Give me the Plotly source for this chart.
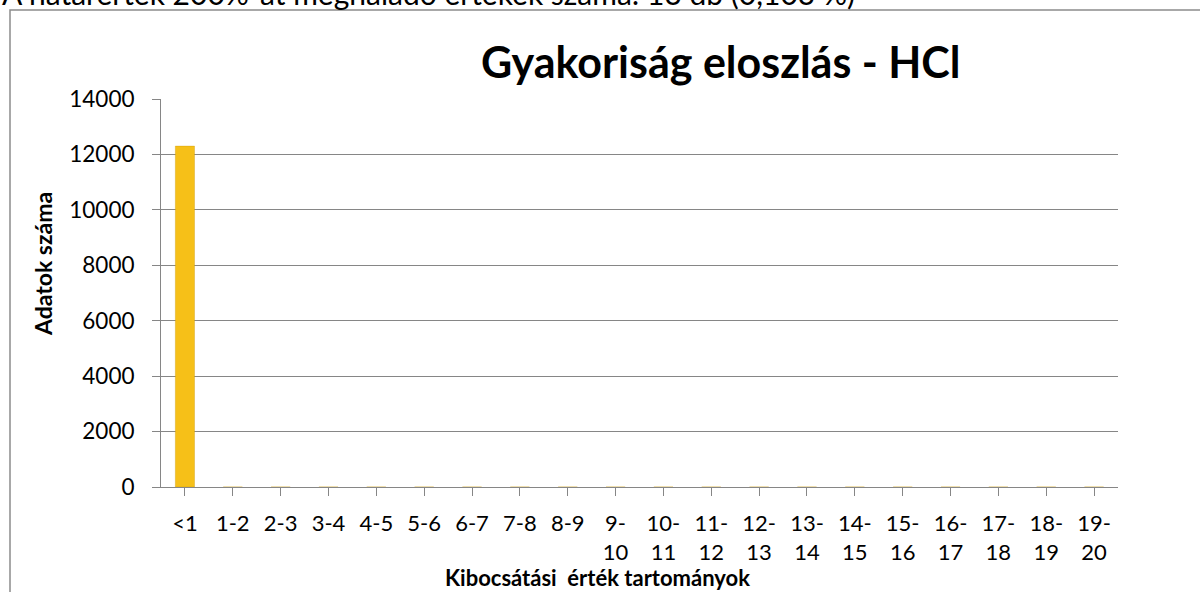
import plotly.graph_objects as go

categories = ["<1", "1-2", "2-3", "3-4", "4-5", "5-6", "6-7", "7-8", "8-9", "9-<br>10",
              "10-<br>11", "11-<br>12", "12-<br>13", "13-<br>14", "14-<br>15", "15-<br>16",
              "16-<br>17", "17-<br>18", "18-<br>19", "19-<br>20"]
counts = [12300, 0, 0, 0, 0, 0, 0, 0, 0, 0, 0, 0, 0, 0, 0, 0, 0, 0, 0, 0]
y_ticks = [0, 2000, 4000, 6000, 8000, 10000, 12000, 14000]

title_text = "Gyakoriság eloszlás - HCl"
x_title = "Kibocsátási  érték tartományok"
y_title = "Adatok száma"
top_note = "A határérték 200%-át meghaladó értékek száma: 13 db (0,103 %)"

FONT = "Lato, 'Open Sans', sans-serif"

fig = go.Figure()
fig.add_trace(go.Bar(
    x=list(range(len(categories))), y=counts, width=0.4,
    marker=dict(color="#F6C018", line=dict(color="rgba(200,150,0,0.35)", width=1)),
    showlegend=False,
))

W, H = 1200, 592
L, R, T, B = 161, 82, 99, 105
pw, ph = W - L - R, H - T - B

def px_x(p):
    return (p - L) / pw

def px_y(p):
    return (H - B - p) / ph

fig.update_layout(
    width=W, height=H,
    margin=dict(l=L, r=R, t=T, b=B),
    paper_bgcolor="white", plot_bgcolor="white",
    font=dict(family=FONT, color="#000000", size=22),
    xaxis=dict(
        tickmode="array", tickvals=list(range(len(categories))), ticktext=categories,
        range=[-0.5, len(categories) - 0.5],
        showgrid=False, zeroline=False,
        showline=True, linecolor="#868686", linewidth=1,
        ticks="outside", ticklen=8, tickcolor="#868686",
        tickangle=0, ticklabelstandoff=9, tickson="boundaries",
        tickfont=dict(size=22, family=FONT, color="#000"),
    ),
    yaxis=dict(
        range=[0, 14000], tickmode="array", tickvals=y_ticks,
        ticktext=[str(v) for v in y_ticks],
        showgrid=True, gridcolor="#868686", gridwidth=1,
        zeroline=False, showline=True, linecolor="#868686", linewidth=1,
        ticks="outside", ticklen=8, tickcolor="#868686",
        ticklabelstandoff=13,
        tickfont=dict(size=22.5, family=FONT, color="#000"),
    ),
)

annotations = [
    dict(text="<b>" + title_text + "</b>", x=px_x(721), y=px_y(62), xref="paper", yref="paper",
         xanchor="center", yanchor="middle", showarrow=False,
         font=dict(size=43, family=FONT, color="#000")),
    dict(text="<b>" + y_title + "</b>", x=px_x(43), y=px_y(264), xref="paper", yref="paper",
         xanchor="center", yanchor="middle", textangle=-90, showarrow=False,
         font=dict(size=23, family=FONT, color="#000")),
    dict(text="<b>" + x_title + "</b>", x=px_x(597), y=px_y(577), xref="paper", yref="paper",
         xanchor="center", yanchor="middle", showarrow=False,
         font=dict(size=22, family=FONT, color="#000")),
    dict(text=top_note, x=px_x(0), y=px_y(13), xref="paper", yref="paper",
         xanchor="left", yanchor="bottom", showarrow=False,
         font=dict(size=30, family=FONT, color="#000")),
]
fig.update_layout(annotations=annotations)

fig.add_shape(type="rect", xref="paper", yref="paper",
              x0=px_x(10), x1=px_x(1230), y0=px_y(620), y1=px_y(10),
              line=dict(color="#8c8c8c", width=1.5), fillcolor="rgba(0,0,0,0)", layer="below")

fig.write_html("out.html", config={"displayModeBar": False},
               post_script="document.body.style.margin='0px';document.body.style.overflow='hidden';")
